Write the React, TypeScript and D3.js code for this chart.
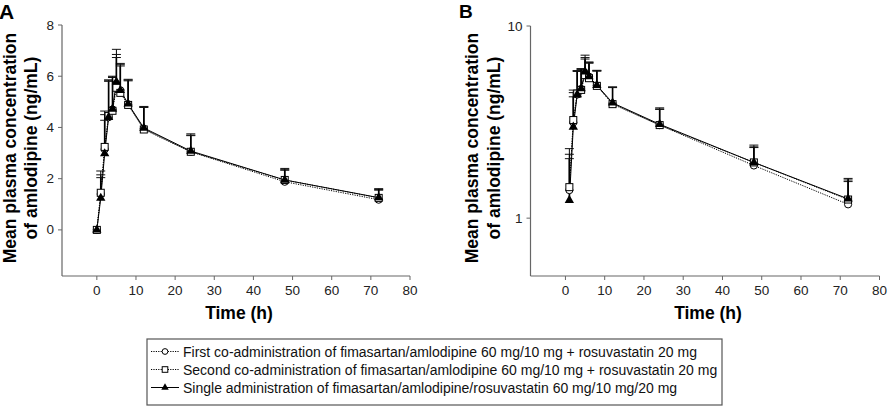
import React from "react";
import * as d3 from "d3";

const times = [0, 1, 2, 3, 4, 5, 6, 8, 12, 24, 48, 72];
const firstMean = [0, 1.4, 3.15, 4.4, 4.7, 5.7, 5.45, 4.9, 3.95, 3.05, 1.88, 1.18];
const firstSd = [0, 0.75, 1.35, 1.45, 1.3, 1.35, 1.05, 0.95, 0.85, 0.65, 0.45, 0.4];
const secondMean = [0, 1.45, 3.24, 4.45, 4.65, 5.55, 5.35, 4.88, 3.92, 3.05, 1.95, 1.25];
const secondSd = [0, 0.85, 1.4, 1.4, 1.3, 1.3, 1.1, 1.0, 0.9, 0.7, 0.45, 0.3];
const singleMean = [0, 1.24, 2.98, 4.4, 4.72, 5.78, 5.45, 4.92, 3.98, 3.08, 1.95, 1.26];
const singleSd = [0, 0.8, 1.3, 1.4, 1.25, 0.95, 0.95, 0.9, 0.8, 0.6, 0.4, 0.35];

const xTicks = [0, 10, 20, 30, 40, 50, 60, 70, 80];
const yTicksLinear = [0, 2, 4, 6, 8];
const yTicksLog = [1, 10];

const legendLabels = [
  "First co-administration of fimasartan/amlodipine 60 mg/10 mg + rosuvastatin 20 mg",
  "Second co-administration of fimasartan/amlodipine 60 mg/10 mg + rosuvastatin 20 mg",
  "Single administration of fimasartan/amlodipine/rosuvastatin 60 mg/10 mg/20 mg",
];

const font = "Arial, 'Liberation Sans', sans-serif";

const series = [
  { mean: firstMean, sd: firstSd, marker: "circle", dash: "1.2,1.2" },
  { mean: secondMean, sd: secondSd, marker: "square", dash: "1.2,1.2" },
  { mean: singleMean, sd: singleSd, marker: "triangle", dash: null },
];

function Marker({ type, x, y, k = 1 }: { type: string; x: number; y: number; k?: number }) {
  if (type === "circle") {
    return <circle cx={x} cy={y} r={3.6 * k} fill="#fff" stroke="#000" strokeWidth={1} />;
  }
  if (type === "square") {
    const h = 3.5 * k;
    return <rect x={x - h} y={y - h} width={2 * h} height={2 * h} fill="#fff" stroke="#000" strokeWidth={1} />;
  }
  const tri = d3.symbol().type(d3.symbolTriangle).size(38 * k * k)();
  return <path d={tri as string} transform={`translate(${x},${y})`} fill="#000" />;
}

function Panel({ log, x0, x1, label, labelX, titleX }: any) {
  const top = log ? 26 : 25;
  const bottom = 276;
  const x = d3.scaleLinear().domain([-8.9, 80]).range([x0, x1]);
  const y: any = log
    ? d3.scaleLog().domain([0.5, 10]).range([bottom, top])
    : d3.scaleLinear().domain([-1.8, 8]).range([bottom, top]);
  const yTicks = log ? yTicksLog : yTicksLinear;
  const axisColor = "#666";

  return (
    <g>
      <text x={labelX} y={log ? 18 : 19} fontFamily={font} fontWeight="bold" fontSize={log ? 19 : 21}>
        {label}
      </text>
      {/* y axis title */}
      <text
        transform={`translate(${titleX},148) rotate(-90)`}
        textAnchor="middle"
        fontFamily={font}
        fontWeight="bold"
        fontSize={17.5}
      >
        Mean plasma concentration
      </text>
      <text
        transform={`translate(${titleX + 21.5},148) rotate(-90)`}
        textAnchor="middle"
        fontFamily={font}
        fontWeight="bold"
        fontSize={17.5}
      >
        of amlodipine (ng/mL)
      </text>

      {/* axes */}
      <line x1={x0} x2={x0} y1={top} y2={bottom} stroke={axisColor} strokeWidth={1.2} />
      <line x1={x0} x2={x1} y1={bottom} y2={bottom} stroke={axisColor} strokeWidth={1.2} />
      {yTicks.map((t) => (
        <g key={t}>
          <line x1={x0 - 4} x2={x0} y1={y(t)} y2={y(t)} stroke={axisColor} />
          <text x={x0 - 8} y={y(t) + 4.5} textAnchor="end" fontFamily={font} fontSize={13.5} fill="#222">
            {t}
          </text>
        </g>
      ))}
      {xTicks.map((t) => (
        <g key={t}>
          <line x1={x(t)} x2={x(t)} y1={bottom} y2={bottom + 4} stroke={axisColor} />
          <text x={x(t)} y={295} textAnchor="middle" fontFamily={font} fontSize={13.5} fill="#222">
            {t}
          </text>
        </g>
      ))}
      <text x={(x0 + x1) / 2 + 3} y={319} textAnchor="middle" fontFamily={font} fontWeight="bold" fontSize={17.5}>
        Time (h)
      </text>

      {/* error bars */}
      {series.map((s, si) =>
        times.map((t, i) => {
          if (s.sd[i] <= 0 || (log && s.mean[i] <= 0)) return null;
          const yTop = y(s.mean[i] + s.sd[i]);
          return (
            <g key={`e${si}-${i}`}>
              <line
                x1={x(t)}
                x2={x(t)}
                y1={y(s.mean[i])}
                y2={yTop}
                stroke="#000"
                strokeWidth={si === 2 ? 1.6 : 1}
              />
              <line x1={x(t) - 4.5} x2={x(t) + 4.5} y1={yTop} y2={yTop} stroke="#111" strokeWidth={1} />
            </g>
          );
        })
      )}

      {/* lines */}
      {series.map((s, si) => {
        const pts = times
          .map((t, i) => [t, s.mean[i]] as [number, number])
          .filter((p) => !log || p[1] > 0);
        const path = d3
          .line<[number, number]>()
          .x((p) => x(p[0]))
          .y((p) => y(p[1]))(pts);
        return (
          <path
            key={`l${si}`}
            d={path as string}
            fill="none"
            stroke="#000"
            strokeWidth={1}
            strokeDasharray={s.dash || undefined}
          />
        );
      })}

      {/* markers */}
      {series.map((s, si) =>
        times.map((t, i) => {
          if (log && s.mean[i] <= 0) return null;
          return <Marker key={`m${si}-${i}`} type={s.marker} x={x(t)} y={y(s.mean[i])} />;
        })
      )}
    </g>
  );
}

export default function App() {
  const legendX = 147;
  const legendY = 339;
  return (
    <svg width={888} height={410} style={{ position: "absolute", left: 0, top: 0, background: "#fff" }}>
      <rect x={0} y={0} width={888} height={410} fill="#fff" />
      <Panel log={false} x0={62} x1={410} label="A" labelX={-1} titleX={15.5} />
      <Panel log={true} x0={530.5} x1={879.5} label="B" labelX={459} titleX={478} />

      <g>
        <rect x={legendX} y={legendY} width={575} height={66} fill="#fff" stroke="#555" strokeWidth={1.2} />
        {legendLabels.map((lab, i) => {
          const ly = 351.5 + i * 18;
          const s = series[i];
          return (
            <g key={lab}>
              <line
                x1={151}
                x2={179}
                y1={ly}
                y2={ly}
                stroke="#000"
                strokeWidth={1}
                strokeDasharray={s.dash || undefined}
              />
              <Marker type={s.marker} x={165} y={ly} k={0.8} />
              <text x={183} y={ly + 5} fontFamily={font} fontSize={14} fill="#111">
                {lab}
              </text>
            </g>
          );
        })}
      </g>
    </svg>
  );
}
